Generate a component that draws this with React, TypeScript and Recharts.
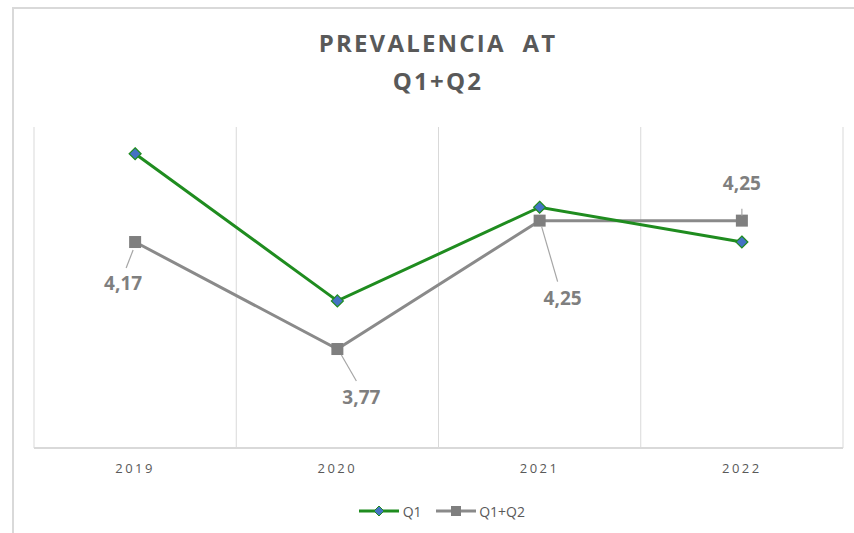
import { LineChart, Line, XAxis, YAxis, CartesianGrid, LabelList } from "recharts"

const years = ["2019", "2020", "2021", "2022"]
const q1 = [4.5, 3.95, 4.3, 4.17]
const q1q2 = [4.17, 3.77, 4.25, 4.25]

const data = years.map((year, i) => ({ year, q1: q1[i], q1q2: q1q2[i] }))

const GREEN = "#1f8c1f"
const BLUE = "#4472c4"
const GRAY = "#8a8a8a"
const TEXT = "#595959"
const GRID = "#d9d9d9"

// where each Q1+Q2 label sits relative to its point, plus its leader line
const labelPos = [
  { dx: -12, dy: 43, x1: -2, y1: 8, x2: -9, y2: 26 },
  { dx: 24, dy: 50, x1: 4, y1: 6, x2: 19, y2: 32 },
  { dx: 23, dy: 79, x1: 2, y1: 6, x2: 18, y2: 61 },
  { dx: 0, dy: -36, x1: 0, y1: -12, x2: 0, y2: -5 },
]

const fmt = (v: number) => v.toFixed(2).replace(".", ",")

function Diamond(props: any) {
  const { cx, cy } = props
  if (cx == null || cy == null) return null
  return <polygon points={`${cx},${cy - 6} ${cx + 6},${cy} ${cx},${cy + 6} ${cx - 6},${cy}`} fill={BLUE} stroke={GREEN} strokeWidth={1.2} />
}

function Square(props: any) {
  const { cx, cy } = props
  if (cx == null || cy == null) return null
  return <rect x={cx - 6} y={cy - 6} width={12} height={12} fill="#7f7f7f" />
}

function Q2Label(props: any) {
  const { x, y, value, index } = props
  const p = labelPos[index]
  if (!p) return null
  return (
    <g>
      <line x1={x + p.x1} y1={y + p.y1} x2={x + p.x2} y2={y + p.y2} stroke="#a6a6a6" strokeWidth={1.2} />
      <text x={x + p.dx} y={y + p.dy} textAnchor="middle" dominantBaseline="middle" fill="#7f7f7f" fontSize={19} fontWeight={700} fontFamily="'Open Sans', sans-serif">
        {fmt(value)}
      </text>
    </g>
  )
}

function LegendIcon({ square }: { square?: boolean }) {
  return (
    <svg width={40} height={14} style={{ verticalAlign: "middle" }}>
      <line x1={0} y1={7} x2={40} y2={7} stroke={square ? GRAY : GREEN} strokeWidth={3} />
      {square ? <rect x={15} y={2} width={10} height={10} fill="#7f7f7f" /> : <polygon points="20,2 25,7 20,12 15,7" fill={BLUE} stroke={GREEN} />}
    </svg>
  )
}

export default function App() {
  return (
    <div style={{ position: "absolute", left: 0, top: 0, width: 854, height: 533, background: "#fff", fontFamily: "'Open Sans', sans-serif" }}>
      <div style={{ position: "absolute", left: 12, top: 7, right: 0, bottom: 0, borderLeft: `2px solid ${GRID}`, borderTop: `2px solid ${GRID}` }} />
      <div style={{ position: "absolute", left: 0, width: 876, top: 24, textAlign: "center", color: TEXT, fontWeight: 700, fontSize: 24, letterSpacing: 2.2, lineHeight: "38px" }}>
        <div>PREVALENCIA&nbsp;&nbsp;AT</div>
        <div>Q1+Q2</div>
      </div>
      <LineChart width={854} height={533} data={data} margin={{ top: 127, right: 11, bottom: 55, left: 34 }} style={{ position: "absolute", left: 0, top: 0 }}>
        <CartesianGrid
          horizontal={false}
          stroke={GRID}
          verticalCoordinatesGenerator={({ offset }: any) => [0, 1, 2, 3, 4].map((i) => offset.left + (i * offset.width) / 4)}
        />
        <XAxis dataKey="year" scale="band" axisLine={{ stroke: GRID, strokeWidth: 2 }} tickLine={false} tickMargin={10} height={30} tick={{ fill: TEXT, fontSize: 13, letterSpacing: 2.5 }} />
        <YAxis hide domain={[3.4, 4.6]} />
        <Line dataKey="q1q2" stroke={GRAY} strokeWidth={3} dot={<Square />} isAnimationActive={false}>
          <LabelList dataKey="q1q2" content={<Q2Label />} />
        </Line>
        <Line dataKey="q1" stroke={GREEN} strokeWidth={3} dot={<Diamond />} isAnimationActive={false} />
      </LineChart>
      <div style={{ position: "absolute", left: 0, width: 884, top: 500, textAlign: "center", color: TEXT, fontSize: 14 }}>
        <LegendIcon /> <span style={{ verticalAlign: "middle" }}>Q1</span>
        <span style={{ display: "inline-block", width: 14 }} />
        <LegendIcon square /> <span style={{ verticalAlign: "middle" }}>Q1+Q2</span>
      </div>
    </div>
  )
}
